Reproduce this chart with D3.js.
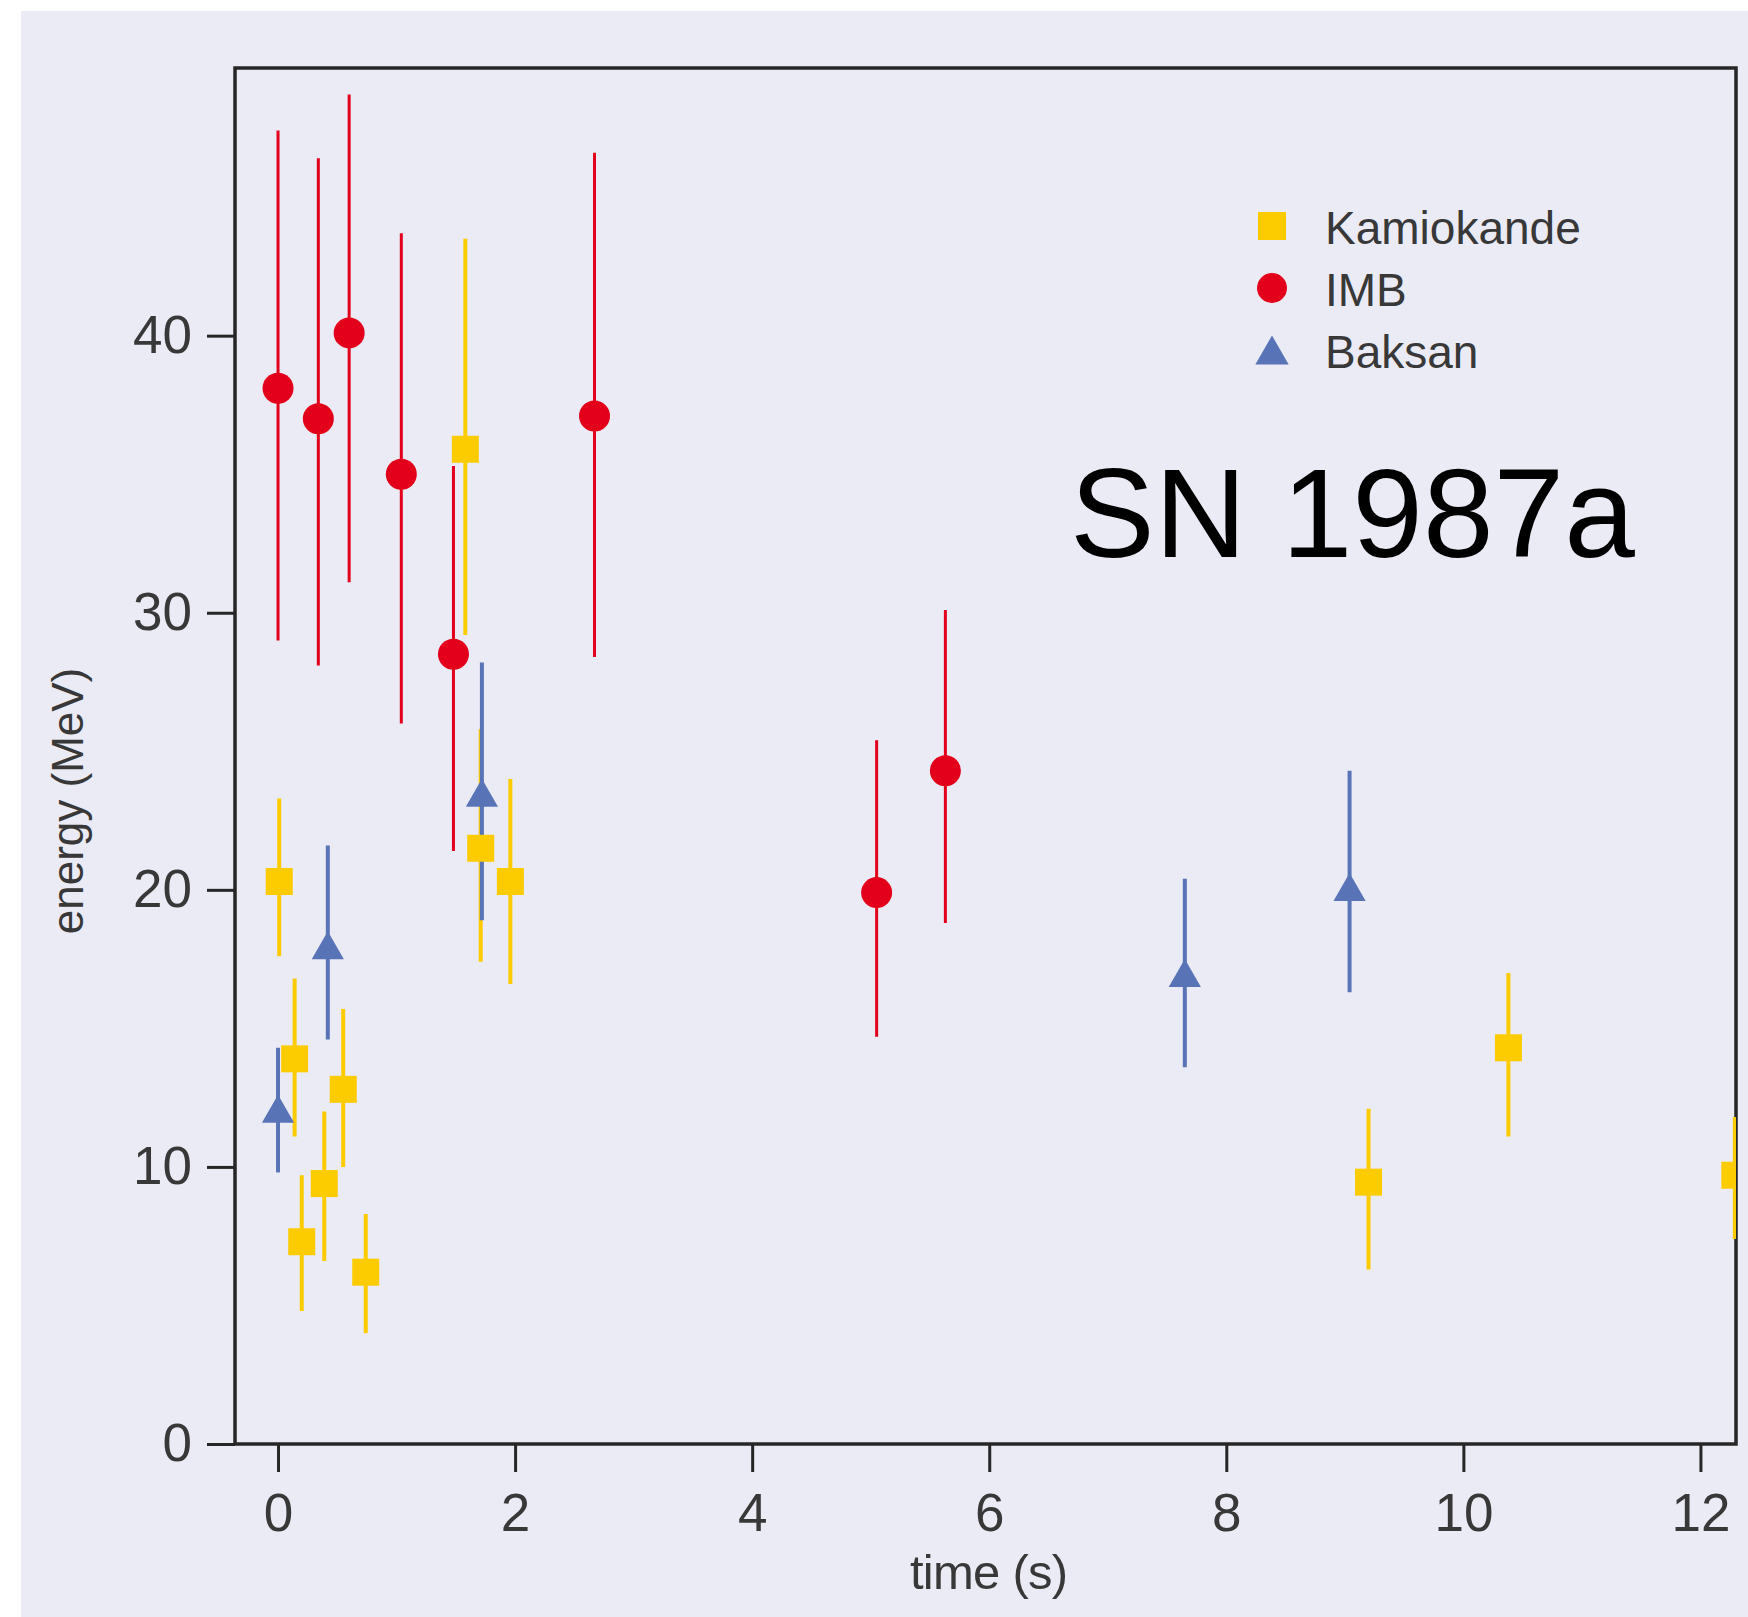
<!DOCTYPE html>
<html>
<head>
<meta charset="utf-8">
<script src="https://cdn.jsdelivr.net/npm/d3@7"></script>
<style>
  html, body { margin: 0; padding: 0; background: #fff; }
  svg { display: block; }
</style>
</head>
<body>
<div id="chart"></div>
<script>
// Kamiokande (yellow squares)
const kamTime = [0.01, 0.14, 0.20, 0.39, 0.55, 0.74, 1.58, 1.71, 1.96, 9.20, 10.38, 12.29];
const kamEnergy = [20.3, 13.9, 7.3, 9.4, 12.8, 6.2, 35.9, 21.5, 20.3, 9.45, 14.3, 9.7];
const kamHigh = [23.3, 16.8, 9.7, 12.0, 15.7, 8.3, 43.5, 25.8, 24.0, 12.1, 17.0, 11.8];
const kamLow = [17.6, 11.1, 4.8, 6.6, 10.0, 4.0, 29.2, 17.4, 16.6, 6.3, 11.1, 7.4];

// IMB (red circles)
const imbTime = [0.0, 0.34, 0.60, 1.04, 1.48, 2.67, 5.05, 5.63];
const imbEnergy = [38.1, 37.0, 40.1, 35.0, 28.5, 37.1, 19.9, 24.3];
const imbHigh = [47.4, 46.4, 48.7, 43.7, 35.3, 46.6, 25.4, 30.1];
const imbLow = [29.0, 28.1, 31.1, 26.0, 21.4, 28.4, 14.7, 18.8];

// Baksan (blue triangles)
const bakTime = [0.0, 0.42, 1.72, 7.65, 9.04];
const bakEnergy = [12.1, 18.0, 23.5, 17.0, 20.1];
const bakHigh = [14.3, 21.6, 28.2, 20.4, 24.3];
const bakLow = [9.8, 14.6, 18.9, 13.6, 16.3];

const xTicks = [0, 2, 4, 6, 8, 10, 12];
const yTicks = [0, 10, 20, 30, 40];
const seriesNames = ['Kamiokande', 'IMB', 'Baksan'];

const YELLOW = '#fccb00';
const RED = '#e2001a';
const BLUE = '#5874b6';
const FONT = '"Liberation Sans", Arial, Helvetica, sans-serif';

const toPoints = (t, e, hi, lo) => t.map((d, i) => ({ t: d, e: e[i], hi: hi[i], lo: lo[i] }));
const series = [
  { name: 'IMB', color: RED, width: 3, shape: 'circle', points: toPoints(imbTime, imbEnergy, imbHigh, imbLow) },
  { name: 'Kamiokande', color: YELLOW, width: 4, shape: 'square', points: toPoints(kamTime, kamEnergy, kamHigh, kamLow) },
  { name: 'Baksan', color: BLUE, width: 4, shape: 'triangle', points: toPoints(bakTime, bakEnergy, bakHigh, bakLow) },
];

// Canvas
const width = 1748;
const height = 1617;

const svg = d3.select('#chart')
  .append('svg')
  .attr('width', width)
  .attr('height', height);

svg.append('rect')
  .attr('x', 21).attr('y', 11)
  .attr('width', width - 21).attr('height', height - 11)
  .attr('fill', '#ebebf5');

// Plot area
const plotLeft = 235;
const plotRight = 1736;
const plotTop = 68;
const plotBottom = 1444;

const xScale = d3.scaleLinear().domain([-0.363, 12.3]).range([plotLeft, plotRight]);
const yScale = d3.scaleLinear().domain([0, 49.66]).range([plotBottom, plotTop]);

const axisColor = '#262626';
const labelColor = '#383838';

const xAxis = d3.axisBottom(xScale).tickValues(xTicks).tickSize(28).tickSizeOuter(0).tickPadding(21);
const yAxis = d3.axisLeft(yScale).tickValues(yTicks).tickSize(28).tickSizeOuter(0).tickPadding(15);

const styleAxis = (g) => {
  g.select('.domain').remove();
  g.selectAll('.tick line').attr('stroke', axisColor).attr('stroke-width', 3);
  g.selectAll('.tick text')
    .attr('fill', labelColor)
    .style('font-family', FONT)
    .style('font-size', '53px');
};

svg.append('g').attr('transform', `translate(0, ${plotBottom})`).call(xAxis).call(styleAxis);
svg.append('g').attr('transform', `translate(${plotLeft}, 0)`).call(yAxis).call(styleAxis);

// Frame
svg.append('rect')
  .attr('x', plotLeft).attr('y', plotTop)
  .attr('width', plotRight - plotLeft).attr('height', plotBottom - plotTop)
  .attr('fill', 'none')
  .attr('stroke', axisColor)
  .attr('stroke-width', 3.5);

// Axis labels
svg.append('text')
  .attr('x', 989)
  .attr('y', 1589)
  .attr('text-anchor', 'middle')
  .attr('fill', labelColor)
  .style('font-family', FONT)
  .style('font-size', '49px')
  .attr('textLength', 158)
  .text('time (s)');

svg.append('text')
  .attr('transform', 'translate(83, 801) rotate(-90)')
  .attr('text-anchor', 'middle')
  .attr('fill', labelColor)
  .style('font-family', FONT)
  .style('font-size', '44px')
  .text('energy (MeV)');

// Markers
const symbolFor = (shape, size) => {
  if (shape === 'square') return `M${-size / 2},${-size / 2}h${size}v${size}h${-size}Z`;
  if (shape === 'triangle') {
    const w = size * 1.15;
    return `M0,${-size / 2}L${w / 2},${size / 2}L${-w / 2},${size / 2}Z`;
  }
  const r = size / 2;
  return `M${-r},0A${r},${r} 0 1,0 ${r},0A${r},${r} 0 1,0 ${-r},0Z`;
};

const markerSize = { circle: 31, square: 27, triangle: 28 };

svg.append('clipPath').attr('id', 'plot-clip')
  .append('rect')
  .attr('x', plotLeft).attr('y', plotTop)
  .attr('width', plotRight - plotLeft).attr('height', plotBottom - plotTop);

const dataLayer = svg.append('g').attr('clip-path', 'url(#plot-clip)');

// Error bars first, symbols on top
series.forEach((s) => {
  dataLayer.append('g').selectAll('line')
    .data(s.points).enter()
    .append('line')
    .attr('x1', (d) => xScale(d.t))
    .attr('x2', (d) => xScale(d.t))
    .attr('y1', (d) => yScale(d.hi))
    .attr('y2', (d) => yScale(d.lo))
    .attr('stroke', s.color)
    .attr('stroke-width', s.width);
});

series.forEach((s) => {
  dataLayer.append('g').selectAll('path')
    .data(s.points).enter()
    .append('path')
    .attr('d', symbolFor(s.shape, markerSize[s.shape]))
    .attr('transform', (d) => `translate(${xScale(d.t)}, ${yScale(d.e)})`)
    .attr('fill', s.color);
});

// Legend
const legendStyle = {
  Kamiokande: { color: YELLOW, shape: 'square', size: 28 },
  IMB: { color: RED, shape: 'circle', size: 30 },
  Baksan: { color: BLUE, shape: 'triangle', size: 29 },
};

const legend = svg.append('g').attr('transform', 'translate(1272, 226)');
seriesNames.forEach((name, i) => {
  const st = legendStyle[name];
  const row = legend.append('g').attr('transform', `translate(0, ${i * 62})`);
  row.append('path').attr('d', symbolFor(st.shape, st.size)).attr('fill', st.color);
  row.append('text')
    .attr('x', 53)
    .attr('y', 18)
    .attr('fill', labelColor)
    .style('font-family', FONT)
    .style('font-size', '46px')
    .text(name);
});

// Title inside the plot
svg.append('text')
  .attr('x', 1070)
  .attr('y', 557)
  .attr('fill', '#000')
  .style('font-family', FONT)
  .style('font-size', '127px')
  .text('SN 1987a');
</script>
</body>
</html>
